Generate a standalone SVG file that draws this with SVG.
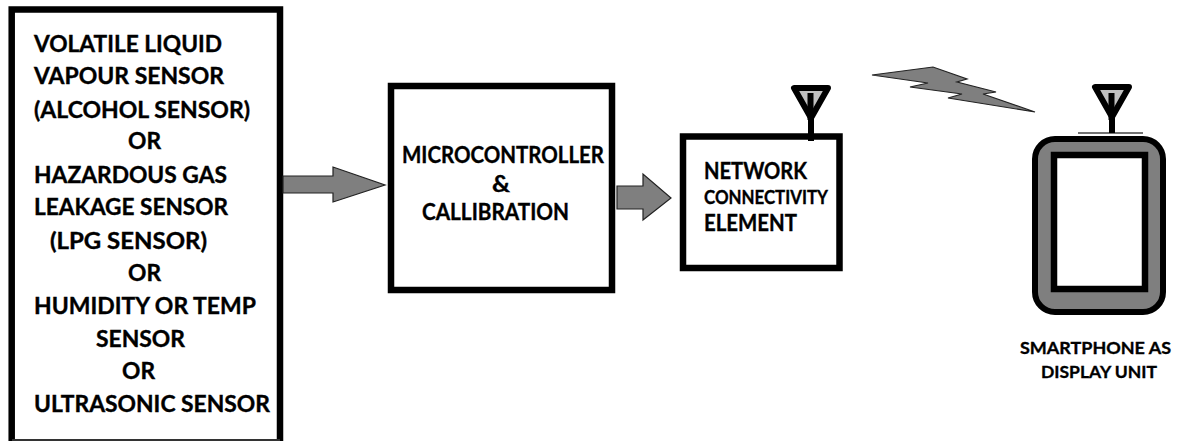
<svg xmlns="http://www.w3.org/2000/svg" width="1177" height="441" viewBox="0 0 1177 441">
<style>
.box{fill:#fff;stroke:#000;stroke-width:6.5}
.arrow{fill:#7f7f7f;stroke:#222;stroke-width:1.2}
.ant{fill:#c0c0c0;stroke:#000;stroke-width:6;stroke-linejoin:round}
.mast{stroke:#000;stroke-width:6;fill:none}
text{font-family:"Lato","Liberation Sans",sans-serif;font-weight:700;font-size:22px;fill:#000;stroke:#000;stroke-width:.35}
.s{font-size:18px}
.m{font-size:17px}
</style>
<rect width="1177" height="441" fill="#fff"/>
<g id="sensors">
<path class="box" d="M11.7 441V9.5H280V441"/>
<path d="M12 440H280" stroke="#333" stroke-width="2" fill="none"/>
<text x="34" y="52" textLength="188" lengthAdjust="spacingAndGlyphs">VOLATILE LIQUID</text>
<text x="34" y="84" textLength="190" lengthAdjust="spacingAndGlyphs">VAPOUR SENSOR</text>
<text x="34" y="118" textLength="216" lengthAdjust="spacingAndGlyphs">(ALCOHOL SENSOR)</text>
<text x="128" y="149" textLength="33" lengthAdjust="spacingAndGlyphs">OR</text>
<text x="34" y="183" textLength="193" lengthAdjust="spacingAndGlyphs">HAZARDOUS GAS</text>
<text x="34" y="215" textLength="194" lengthAdjust="spacingAndGlyphs">LEAKAGE SENSOR</text>
<text x="50" y="249" textLength="157" lengthAdjust="spacingAndGlyphs">(LPG SENSOR)</text>
<text x="128" y="281" textLength="33" lengthAdjust="spacingAndGlyphs">OR</text>
<text x="34" y="314" textLength="222" lengthAdjust="spacingAndGlyphs">HUMIDITY OR TEMP</text>
<text x="96" y="347" textLength="89" lengthAdjust="spacingAndGlyphs">SENSOR</text>
<text x="122" y="379" textLength="33" lengthAdjust="spacingAndGlyphs">OR</text>
<text x="34" y="412" textLength="236" lengthAdjust="spacingAndGlyphs">ULTRASONIC SENSOR</text>
</g>
<g id="microcontroller">
<rect class="box" x="391" y="86" width="221" height="204"/>
<text x="402" y="163" textLength="202" lengthAdjust="spacingAndGlyphs">MICROCONTROLLER</text>
<text x="492" y="192" textLength="18" lengthAdjust="spacingAndGlyphs">&amp;</text>
<text x="422" y="220" textLength="147" lengthAdjust="spacingAndGlyphs">CALLIBRATION</text>
</g>
<g id="network">
<rect class="box" x="683" y="136.5" width="156.5" height="131.5"/>
<text x="704" y="179" textLength="103" lengthAdjust="spacingAndGlyphs">NETWORK</text>
<text class="s" x="704" y="204" textLength="124" lengthAdjust="spacingAndGlyphs">CONNECTIVITY</text>
<text x="704" y="231" textLength="93" lengthAdjust="spacingAndGlyphs">ELEMENT</text>
<path class="mast" d="M811 118V141"/>
<path class="ant" d="M794 88H828L811 118Z"/>
<path class="mast" d="M810.500 93V120"/>
</g>
<g id="smartphone">
<path d="M1078 133H1143" stroke="#444" stroke-width="1.5" fill="none"/>
<path class="mast" d="M1112 118V133"/>
<path class="ant" d="M1095 87H1129L1112 117Z"/>
<path class="mast" d="M1111.500 93V120"/>
<rect x="1035" y="139" width="128" height="173" rx="20" fill="#7f7f7f" stroke="#000" stroke-width="6"/>
<rect class="box" x="1054" y="155" width="91" height="134"/>
<text class="m" x="1020" y="354" textLength="151" lengthAdjust="spacingAndGlyphs">SMARTPHONE AS</text>
<text class="m" x="1041" y="378" textLength="116" lengthAdjust="spacingAndGlyphs">DISPLAY UNIT</text>
</g>
<g id="connectors">
<path class="arrow" d="M283 176H333V167L385 185L333 202V193H283Z"/>
<path class="arrow" d="M617 186H643V174L671 198L643 220V209H617Z"/>
<path class="arrow" d="M872 75L933 67L967 79L957 82L996 92L983 94L1035 112L948 98L962 94L910 87L928 83Z"/>
</g>
</svg>
